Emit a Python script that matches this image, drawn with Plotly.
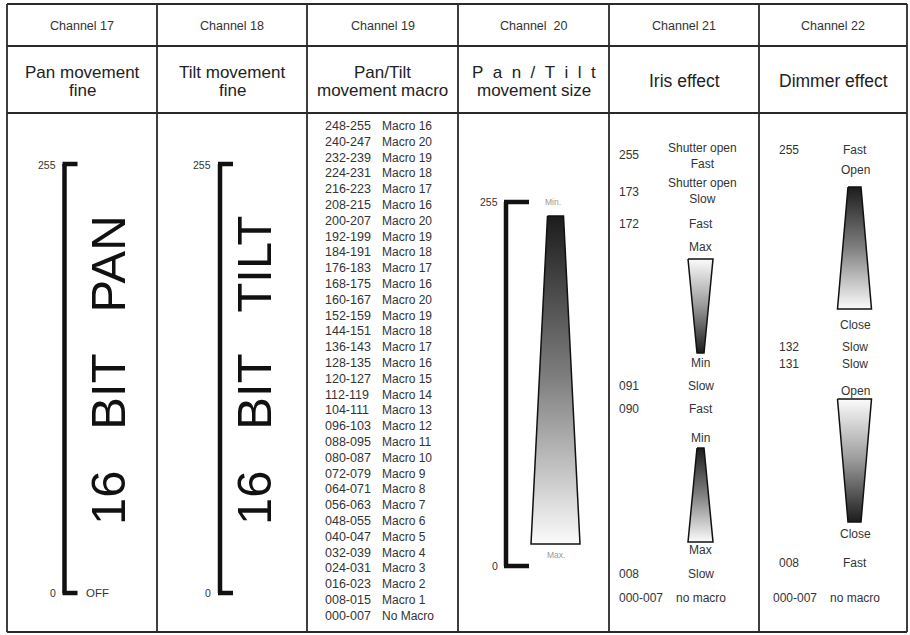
import plotly.graph_objects as go

# ---------------- data (text content) ----------------
channels = ["Channel 17", "Channel 18", "Channel 19", "Channel\u00a0\u00a020", "Channel 21", "Channel 22"]
title_line1 = ["Pan movement", "Tilt movement", "Pan/Tilt", "P\u00a0\u00a0a\u00a0\u00a0n\u00a0\u00a0/\u00a0\u00a0T\u00a0\u00a0i\u00a0\u00a0l\u00a0\u00a0t", "Iris effect", "Dimmer effect"]
title_line2 = ["fine", "fine", "movement macro", "movement size", "", ""]

big_text = ["16\u00a0\u00a0\u00a0BIT\u00a0\u00a0\u00a0PAN", "16\u00a0\u00a0\u00a0BIT\u00a0\u00a0\u00a0TILT"]
scale_top = "255"
scale_bottom = "0"

macro_ranges = ["248-255", "240-247", "232-239", "224-231", "216-223", "208-215", "200-207", "192-199",
                "184-191", "176-183", "168-175", "160-167", "152-159", "144-151", "136-143", "128-135",
                "120-127", "112-119", "104-111", "096-103", "088-095", "080-087", "072-079", "064-071",
                "056-063", "048-055", "040-047", "032-039", "024-031", "016-023", "008-015", "000-007"]
macro_names = ["Macro 16", "Macro 20", "Macro 19", "Macro 18", "Macro 17", "Macro 16", "Macro 20", "Macro 19",
               "Macro 18", "Macro 17", "Macro 16", "Macro 20", "Macro 19", "Macro 18", "Macro 17", "Macro 16",
               "Macro 15", "Macro 14", "Macro 13", "Macro 12", "Macro 11", "Macro 10", "Macro 9", "Macro 8",
               "Macro 7", "Macro 6", "Macro 5", "Macro 4", "Macro 3", "Macro 2", "Macro 1", "No Macro"]

iris_values = ["255", "173", "172", "091", "090", "008", "000-007"]
iris_labels = ["Shutter open<br>Fast", "Shutter open<br>Slow", "Fast", "Slow", "Fast", "Slow", "no macro"]
iris_ramp_labels = ["Max", "Min", "Min", "Max"]

dimmer_values = ["255", "132", "131", "008", "000-007"]
dimmer_labels = ["Fast", "Slow", "Slow", "Fast", "no macro"]
dimmer_ramp_labels = ["Open", "Close", "Open", "Close"]

size_labels = ["Min.", "Max."]

# ---------------- layout constants (pixel-like coordinates) ----------------
W, H = 910, 635
COL_X = [7, 157, 307, 458, 609, 759, 907]
ROW_Y = [4, 46, 113, 632]
FONT = "Liberation Sans, Arial, sans-serif"
LINE = "#2a2a2a"
TXT = "#222222"

fig = go.Figure()
shapes = []
ann = []


def hline(x0, x1, y, w=1.8, c=LINE):
    shapes.append(dict(type="line", x0=x0, x1=x1, y0=y, y1=y, line=dict(color=c, width=w), xref="x", yref="y"))


def vline(x, y0, y1, w=1.8, c=LINE):
    shapes.append(dict(type="line", x0=x, x1=x, y0=y0, y1=y1, line=dict(color=c, width=w), xref="x", yref="y"))


def text(x, y, s, size, color=TXT, xanchor="center", angle=0):
    ann.append(dict(x=x, y=y, text=s, showarrow=False, xanchor=xanchor, yanchor="middle",
                    textangle=angle, font=dict(family=FONT, size=size, color=color), xref="x", yref="y"))


# table grid
for y in ROW_Y:
    hline(COL_X[0], COL_X[-1], y)
for x in COL_X:
    vline(x, ROW_Y[0], ROW_Y[-1])

# headers
for i in range(6):
    cx = (COL_X[i] + COL_X[i + 1]) / 2
    text(cx, 26, channels[i], 12.5, "#333")
    if title_line2[i]:
        text(cx, 72, title_line1[i], 17)
        text(cx, 90, title_line2[i], 17)
    else:
        text(cx, 81, title_line1[i], 17.5)

# channel 17 / 18 : 16 bit brackets
for k, (bx, tx) in enumerate([(64.5, 108), (220, 254)]):
    vline(bx, 164, 593, w=4.5, c="#111")
    hline(bx - 2, bx + 13, 164, w=4.5, c="#111")
    hline(bx - 2, bx + 13, 593, w=4.5, c="#111")
    text(bx - 7, 165, scale_top, 10.5, "#333", xanchor="right")
    text(bx - 7, 593, scale_bottom, 10.5, "#333", xanchor="right")
    text(tx, 370, big_text[k], 49, "#111", angle=-90)
text(84, 593, "OFF", 11.5, "#333", xanchor="left")

# channel 19 : macro list
for i, (r, m) in enumerate(zip(macro_ranges, macro_names)):
    y = 126 + i * 15.8
    text(323, y, r, 12.5, "#333", xanchor="left")
    text(380, y, m, 12, "#333", xanchor="left")


# gradient trapezoids
def ramp(y_top, y_bot, top_half_w, bot_half_w, cx, dark_top):
    xs = [cx - top_half_w, cx + top_half_w, cx + bot_half_w, cx - bot_half_w, cx - top_half_w]
    ys = [y_top, y_top, y_bot, y_bot, y_top]
    dark, light = "#1c1c1c", "#fbfbfb"
    cs = [[0, dark], [0.5, "#808080"], [1, light]] if dark_top else [[0, light], [0.5, "#9a9a9a"], [1, dark]]
    fig.add_trace(go.Scatter(x=xs, y=ys, mode="lines", fill="toself",
                             fillgradient=dict(type="vertical", colorscale=cs, start=y_top, stop=y_bot),
                             line=dict(color="#111", width=1.5), hoverinfo="skip", showlegend=False))


# channel 20
vline(506, 202, 566, w=4.5, c="#111")
hline(504, 529, 202, w=4.5, c="#111")
hline(504, 529, 566, w=4.5, c="#111")
text(500, 202, scale_top, 10.5, "#333", xanchor="right")
text(500, 566, scale_bottom, 10.5, "#333", xanchor="right")
ramp(216, 544, 8, 24.5, 555.5, True)
text(553, 202, size_labels[0], 8.5, "#999")
text(556, 555, size_labels[1], 8.5, "#999")

# channel 21 : iris
iris_y = [155, 192, 224, 386, 409, 574, 598]
iris_ly = [156, 191, 224, 386, 409, 574, 598]
for v, l, y, ly in zip(iris_values, iris_labels, iris_y, iris_ly):
    text(617, y, v, 12, "#333", xanchor="left")
    text(702 if "<br>" in l else 701, ly, l, 12, "#333")
text(700.5, 247, iris_ramp_labels[0], 12, "#333")
text(700.5, 363, iris_ramp_labels[1], 12, "#333")
ramp(259, 353, 12.5, 3.5, 700.5, False)
text(700.5, 438, iris_ramp_labels[2], 12, "#333")
ramp(448, 542, 3.5, 12.5, 700.5, True)
text(700.5, 550, iris_ramp_labels[3], 12, "#333")

# channel 22 : dimmer
dim_y = [150, 347, 364, 563, 598]
for v, l, y in zip(dimmer_values, dimmer_labels, dim_y):
    text(777 if v != "000-007" else 771, y, v, 12, "#333", xanchor="left")
    text(855, y, l, 12, "#333")
text(855, 170, dimmer_ramp_labels[0], 12, "#333")
ramp(187, 309, 6.5, 17, 854.5, True)
text(855, 325, dimmer_ramp_labels[1], 12, "#333")
text(855, 391, dimmer_ramp_labels[2], 12, "#333")
ramp(399, 522, 17, 6.5, 854.5, False)
text(855, 534, dimmer_ramp_labels[3], 12, "#333")

fig.update_layout(
    width=W, height=H, margin=dict(l=0, r=0, t=0, b=0),
    paper_bgcolor="white", plot_bgcolor="white",
    xaxis=dict(range=[0, W], visible=False, fixedrange=True),
    yaxis=dict(range=[H, 0], visible=False, fixedrange=True),
    shapes=shapes, annotations=ann, showlegend=False,
)
fig.write_html("out.html", config={"displayModeBar": False},
               post_script="document.body.style.margin='0';document.body.style.overflow='hidden';")
